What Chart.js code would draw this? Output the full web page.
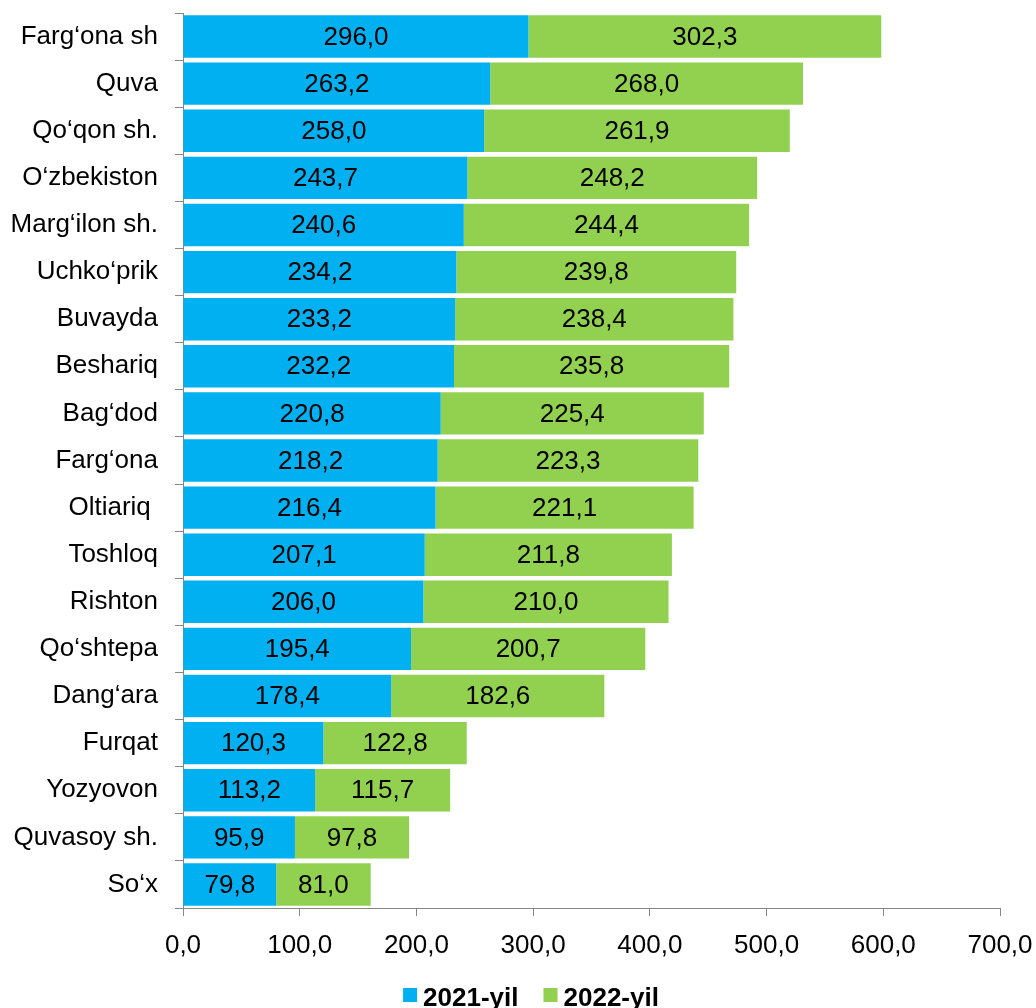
<!DOCTYPE html>
<html>
<head>
<meta charset="utf-8">
<script src="https://cdn.jsdelivr.net/npm/chart.js@4"></script>
<style>
  html, body { margin: 0; padding: 0; background: #fff; }
  #wrap { width: 1036px; height: 1008px; }
</style>
</head>
<body>
<div id="wrap"><canvas id="chart"></canvas></div>
<script>
// categories and values
const districts = [
  'Farg‘ona sh', 'Quva', 'Qo‘qon sh.', 'O‘zbekiston', 'Marg‘ilon sh.',
  'Uchko‘prik', 'Buvayda', 'Beshariq', 'Bag‘dod', 'Farg‘ona',
  'Oltiariq ', 'Toshloq', 'Rishton', 'Qo‘shtepa', 'Dang‘ara',
  'Furqat', 'Yozyovon', 'Quvasoy sh.', 'So‘x'
];
const year2021 = [296.0, 263.2, 258.0, 243.7, 240.6, 234.2, 233.2, 232.2, 220.8, 218.2,
                  216.4, 207.1, 206.0, 195.4, 178.4, 120.3, 113.2, 95.9, 79.8];
const year2022 = [302.3, 268.0, 261.9, 248.2, 244.4, 239.8, 238.4, 235.8, 225.4, 223.3,
                  221.1, 211.8, 210.0, 200.7, 182.6, 122.8, 115.7, 97.8, 81.0];
const seriesNames = ['2021-yil', '2022-yil'];

const fmt = v => v.toFixed(1).replace('.', ',');
const FONT = "'Liberation Sans', Arial, sans-serif";
const axisGray = '#868686';

// draws the value in the middle of every bar segment
const barLabels = {
  id: 'barLabels',
  afterDatasetsDraw(chart) {
    const ctx = chart.ctx;
    ctx.save();
    ctx.font = '26px ' + FONT;
    ctx.fillStyle = '#000';
    ctx.textAlign = 'center';
    ctx.textBaseline = 'middle';
    chart.data.datasets.forEach((ds, di) => {
      chart.getDatasetMeta(di).data.forEach((bar, i) => {
        const p = bar.getProps(['x', 'y', 'base'], true);
        ctx.fillText(fmt(ds.data[i]), (p.x + p.base) / 2, p.y + 1);
      });
    });
    ctx.restore();
  }
};

// legend at the bottom, centred a bit right of the page middle like the original
const bottomLegend = {
  id: 'bottomLegend',
  afterDraw(chart) {
    const ctx = chart.ctx;
    const box = 14, gap = 6, spacing = 25;
    ctx.save();
    ctx.font = 'bold 26px ' + FONT;
    const items = chart.data.datasets.map(ds => ({
      text: ds.label, color: ds.backgroundColor, w: ctx.measureText(ds.label).width
    }));
    const total = items.reduce((s, it) => s + box + gap + it.w, 0) + spacing * (items.length - 1);
    let x = 531 - total / 2;
    const base = chart.height - 2;
    ctx.textBaseline = 'alphabetic';
    ctx.textAlign = 'left';
    items.forEach(it => {
      ctx.fillStyle = it.color;
      ctx.fillRect(x, base - 18, box, box);
      x += box + gap;
      ctx.fillStyle = '#000';
      ctx.fillText(it.text, x, base);
      x += it.w + spacing;
    });
    ctx.restore();
  }
};

new Chart(document.getElementById('chart'), {
  type: 'bar',
  data: {
    labels: districts,
    datasets: [
      { label: seriesNames[0], data: year2021, backgroundColor: '#00B0F0' },
      { label: seriesNames[1], data: year2022, backgroundColor: '#92D050' }
    ]
  },
  options: {
    indexAxis: 'y',
    responsive: true,
    maintainAspectRatio: false,
    animation: false,
    barPercentage: 0.9,
    categoryPercentage: 1,
    layout: { padding: { left: 0, right: 36, top: 13, bottom: 47 } },
    plugins: {
      legend: { display: false },
      tooltip: { enabled: false }
    },
    scales: {
      x: {
        stacked: true,
        min: 0,
        max: 700,
        ticks: {
          stepSize: 100,
          color: '#000',
          font: { family: FONT, size: 26 },
          padding: 14,
          callback: v => fmt(v)
        },
        grid: { drawOnChartArea: false, color: axisGray, tickLength: 8 },
        border: { color: axisGray },
        afterFit(scale) {
          scale.height = 53;
          scale.paddingLeft = 0;
          scale.paddingRight = 0;
        }
      },
      y: {
        stacked: true,
        ticks: {
          color: '#000',
          font: { family: FONT, size: 26 },
          padding: 17
        },
        grid: { drawOnChartArea: false, offset: true, color: axisGray, tickLength: 8 },
        border: { color: axisGray },
        afterFit(scale) {
          scale.width = 183;
          scale.paddingTop = 0;
          scale.paddingBottom = 0;
        }
      }
    }
  },
  plugins: [barLabels, bottomLegend]
});
</script>
</body>
</html>
